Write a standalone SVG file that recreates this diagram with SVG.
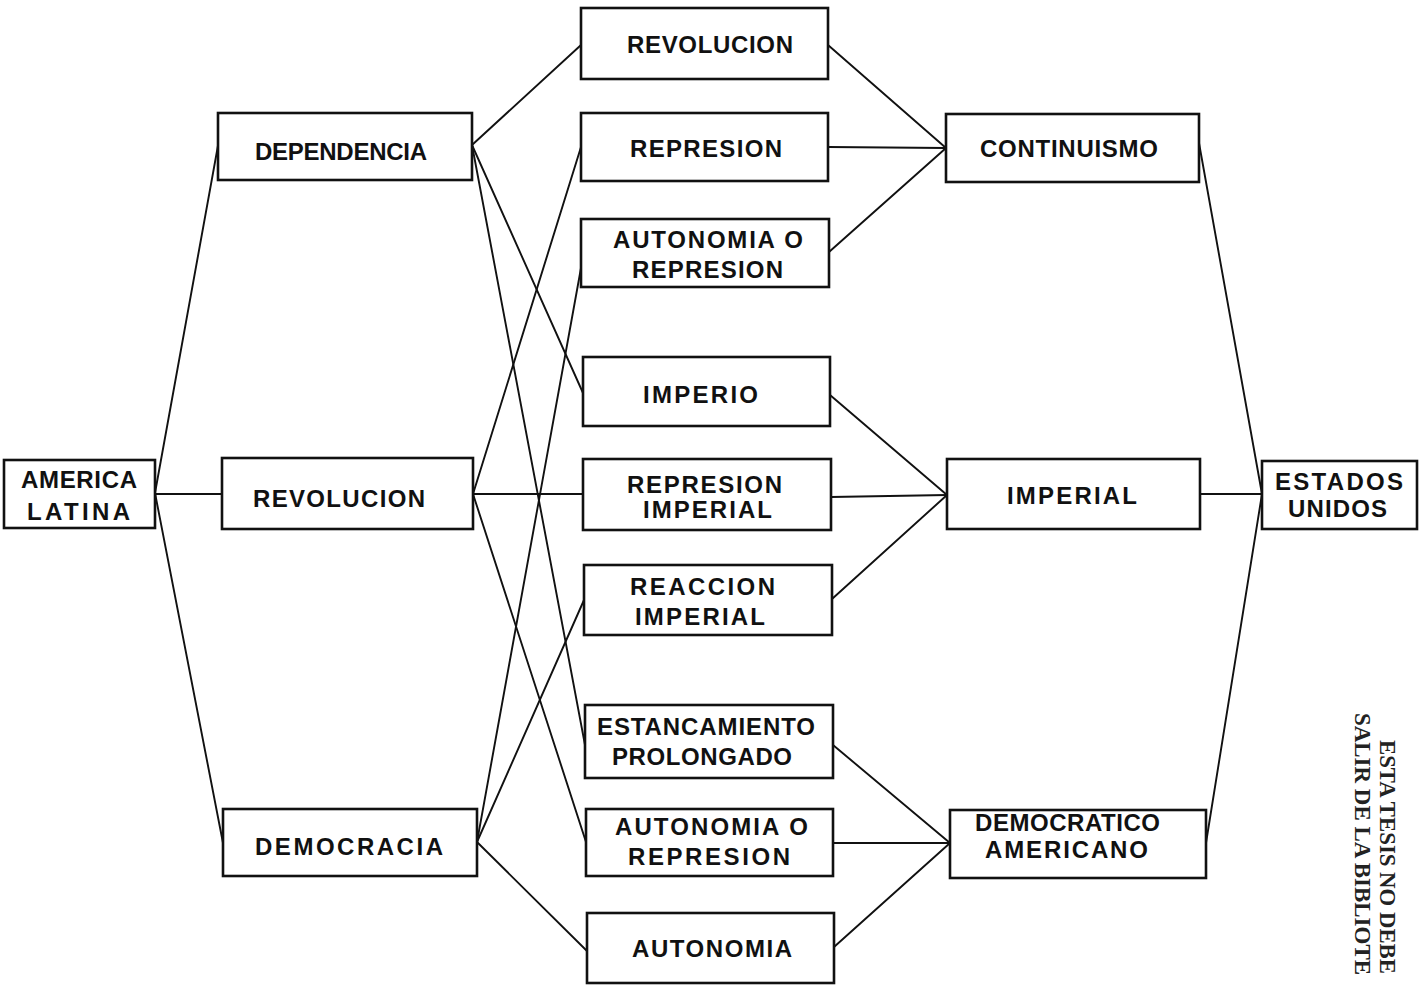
<svg xmlns="http://www.w3.org/2000/svg" width="1420" height="989" viewBox="0 0 1420 989">
<style>
.bg{fill:#ffffff}
.box{fill:#ffffff;stroke:#111;stroke-width:2.6}
.ln{stroke:#111;stroke-width:1.9;fill:none;stroke-linecap:round}
.t{font-family:"Liberation Sans",Arial,sans-serif;font-weight:bold;font-size:24px;fill:#111;text-anchor:middle}
.st{font-family:"Liberation Serif","Times New Roman",serif;font-weight:bold;font-size:24px;fill:#222}
</style>
<rect class="bg" x="0" y="0" width="1420" height="989"/>
<g id="connectors">
<line class="ln" x1="155" y1="493" x2="219" y2="140"/>
<line class="ln" x1="155" y1="494" x2="222" y2="494"/>
<line class="ln" x1="155" y1="493" x2="223" y2="843"/>
<line class="ln" x1="472" y1="145" x2="581" y2="45"/>
<line class="ln" x1="472" y1="145" x2="583" y2="393"/>
<line class="ln" x1="472" y1="145" x2="585" y2="745"/>
<line class="ln" x1="473" y1="494" x2="581" y2="147"/>
<line class="ln" x1="473" y1="494" x2="583" y2="494"/>
<line class="ln" x1="473" y1="494" x2="586" y2="842"/>
<line class="ln" x1="477" y1="842" x2="581" y2="268"/>
<line class="ln" x1="477" y1="842" x2="584" y2="600"/>
<line class="ln" x1="477" y1="842" x2="588" y2="952"/>
<line class="ln" x1="828" y1="45" x2="946" y2="148"/>
<line class="ln" x1="828" y1="147" x2="946" y2="148"/>
<line class="ln" x1="829" y1="252" x2="946" y2="148"/>
<line class="ln" x1="830" y1="395" x2="947" y2="495"/>
<line class="ln" x1="831" y1="497" x2="947" y2="495"/>
<line class="ln" x1="832" y1="599" x2="947" y2="495"/>
<line class="ln" x1="833" y1="745" x2="950" y2="843"/>
<line class="ln" x1="833" y1="843" x2="950" y2="843"/>
<line class="ln" x1="834" y1="947" x2="950" y2="843"/>
<line class="ln" x1="1199" y1="143" x2="1262" y2="494"/>
<line class="ln" x1="1200" y1="494" x2="1262" y2="494"/>
<line class="ln" x1="1206" y1="843" x2="1262" y2="494"/>
</g>
<g id="america-latina">
<rect class="box" x="4" y="460" width="151" height="68"/>
<text class="t" x="79" y="488" textLength="116">AMERICA</text>
<text class="t" x="78.5" y="520" textLength="103">LATINA</text>
</g>
<g id="dependencia">
<rect class="box" x="218" y="113" width="254" height="67"/>
<text class="t" x="341" y="160" textLength="172">DEPENDENCIA</text>
</g>
<g id="revolucion-1">
<rect class="box" x="222" y="458" width="251" height="71"/>
<text class="t" x="339" y="507" textLength="172">REVOLUCION</text>
</g>
<g id="democracia">
<rect class="box" x="223" y="809" width="254" height="67"/>
<text class="t" x="349" y="855" textLength="188">DEMOCRACIA</text>
</g>
<g id="revolucion-2">
<rect class="box" x="581" y="8" width="247" height="71"/>
<text class="t" x="710" y="53" textLength="166">REVOLUCION</text>
</g>
<g id="represion">
<rect class="box" x="581" y="113" width="247" height="68"/>
<text class="t" x="706" y="157" textLength="152">REPRESION</text>
</g>
<g id="autonomia-o-represion-1">
<rect class="box" x="581" y="219" width="248" height="68"/>
<text class="t" x="708" y="248" textLength="190">AUTONOMIA O</text>
<text class="t" x="707.5" y="278" textLength="151">REPRESION</text>
</g>
<g id="imperio">
<rect class="box" x="583" y="357" width="247" height="69"/>
<text class="t" x="700.5" y="403" textLength="115">IMPERIO</text>
</g>
<g id="represion-imperial">
<rect class="box" x="583" y="459" width="248" height="71"/>
<text class="t" x="704.5" y="493" textLength="155">REPRESION</text>
<text class="t" x="707.5" y="518" textLength="129">IMPERIAL</text>
</g>
<g id="reaccion-imperial">
<rect class="box" x="584" y="565" width="248" height="70"/>
<text class="t" x="702.5" y="595" textLength="145">REACCION</text>
<text class="t" x="700" y="625" textLength="130">IMPERIAL</text>
</g>
<g id="estancamiento-prolongado">
<rect class="box" x="585" y="705" width="248" height="73"/>
<text class="t" x="706" y="735" textLength="218">ESTANCAMIENTO</text>
<text class="t" x="702" y="765" textLength="180">PROLONGADO</text>
</g>
<g id="autonomia-o-represion-2">
<rect class="box" x="586" y="809" width="247" height="67"/>
<text class="t" x="711.5" y="835" textLength="193">AUTONOMIA  O</text>
<text class="t" x="709" y="865" textLength="162">REPRESION</text>
</g>
<g id="autonomia">
<rect class="box" x="587" y="913" width="247" height="70"/>
<text class="t" x="712" y="957" textLength="160">AUTONOMIA</text>
</g>
<g id="continuismo">
<rect class="box" x="946" y="114" width="253" height="68"/>
<text class="t" x="1069" y="157" textLength="178">CONTINUISMO</text>
</g>
<g id="imperial">
<rect class="box" x="947" y="459" width="253" height="70"/>
<text class="t" x="1072" y="504" textLength="130">IMPERIAL</text>
</g>
<g id="democratico-americano">
<rect class="box" x="950" y="810" width="256" height="68"/>
<text class="t" x="1067.5" y="831" textLength="185">DEMOCRATICO</text>
<text class="t" x="1066.5" y="858" textLength="163">AMERICANO</text>
</g>
<g id="estados-unidos">
<rect class="box" x="1262" y="461" width="155" height="68"/>
<text class="t" x="1339" y="490" textLength="128">ESTADOS</text>
<text class="t" x="1337.5" y="517" textLength="99">UNIDOS</text>
</g>
<g id="stamp">
<text class="st" transform="translate(1380,740) rotate(90)" textLength="234" lengthAdjust="spacingAndGlyphs">ESTA TESIS NO DEBE</text>
<text class="st" transform="translate(1355,713) rotate(90)" textLength="262" lengthAdjust="spacingAndGlyphs">SALIR DE LA BIBLIOTE</text>
</g>
</svg>
